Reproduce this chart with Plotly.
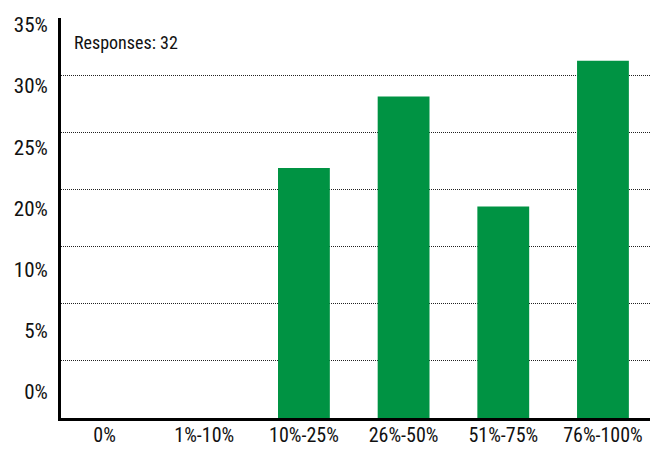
import plotly.graph_objects as go

# Share of responses per range
categories = ["0%", "1%-10%", "10%-25%", "26%-50%", "51%-75%", "76%-100%"]
share_pct = [0, 0, 21.88, 28.13, 18.5, 31.25]
responses = 32

# Gridlines every 5%, left-hand labels listed bottom to top
grid_vals = [0, 5, 10, 15, 20, 25, 30, 35]
label_text = ["0%", "5%", "10%", "20%", "25%", "30%", "35%"]

FONT = "Liberation Sans Narrow, Arial Narrow, Roboto Condensed, DejaVu Sans Condensed, sans-serif"
GREEN = "#009343"

fig = go.Figure()
fig.add_trace(go.Bar(
    x=list(range(len(categories))),
    y=share_pct,
    width=0.52,
    marker=dict(color=GREEN, line=dict(width=0)),
    hoverinfo="skip",
))
# invisible trace that carries the left-hand label axis
fig.add_trace(go.Scatter(x=[0], y=[0], yaxis="y2", mode="markers",
                         marker=dict(opacity=0), hoverinfo="skip", showlegend=False))

fig.update_layout(
    width=650, height=449,
    margin=dict(l=60.5, r=0, t=18, b=30.5),
    paper_bgcolor="white", plot_bgcolor="white",
    showlegend=False,
    font=dict(family=FONT, color="#111111"),
    xaxis=dict(
        range=[-0.437, 5.472],
        tickmode="array",
        tickvals=list(range(len(categories))),
        ticktext=categories,
        tickfont=dict(size=20, family=FONT, color="#111111"),
        showgrid=False, zeroline=False,
        showline=True, linecolor="black", linewidth=3,
        ticks="",
        ticklabelstandoff=-3,
        automargin=False,
        fixedrange=True,
    ),
    yaxis=dict(
        range=[0, 35],
        tickmode="array",
        tickvals=grid_vals,
        showticklabels=False,
        showgrid=True, gridcolor="#222222", gridwidth=1, griddash="1px,1px",
        zeroline=False,
        showline=True, linecolor="black", linewidth=3,
        ticks="",
        automargin=False,
        fixedrange=True,
    ),
    yaxis2=dict(
        overlaying="y", side="left",
        range=[-0.433, 6.114],
        tickmode="array",
        tickvals=list(range(len(label_text))),
        ticktext=label_text,
        tickfont=dict(size=21, family=FONT, color="#111111"),
        showgrid=False, zeroline=False, showline=False,
        ticks="outside", ticklen=8, tickcolor="rgba(0,0,0,0)",
        automargin=False,
        fixedrange=True,
    ),
    annotations=[dict(
        text=f"Responses: {responses}",
        xref="paper", yref="paper",
        x=0.018, y=0.94, xanchor="left", yanchor="middle",
        showarrow=False,
        font=dict(size=18, family=FONT, color="#111111"),
    )],
)

fig.write_html("out.html")
